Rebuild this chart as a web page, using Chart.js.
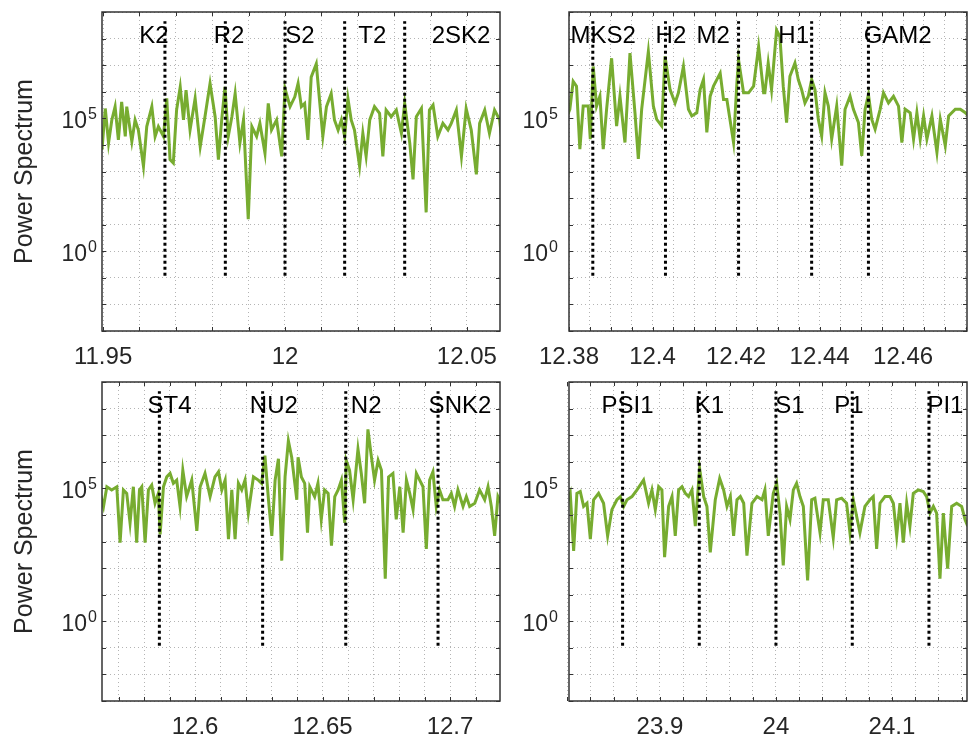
<!DOCTYPE html>
<html>
<head>
<meta charset="utf-8">
<script src="https://cdn.jsdelivr.net/npm/chart.js@4.4.0/dist/chart.umd.min.js"></script>
<style>
  body { margin: 0; background: #fff; }
  #wrap { position: relative; width: 968px; height: 739px; }
  canvas { position: absolute; }
</style>
</head>
<body>
<div id="wrap">
  <canvas id="c1" width="505" height="370" style="left:0;top:0"></canvas>
  <canvas id="c2" width="463" height="370" style="left:505px;top:0"></canvas>
  <canvas id="c3" width="505" height="369" style="left:0;top:370px"></canvas>
  <canvas id="c4" width="463" height="369" style="left:505px;top:370px"></canvas>
</div>
<script>
// ---- panel 1 : semidiurnal, around S2 (period in hours, power as log10)
const p1Period = [11.9492, 11.9497, 11.9506, 11.9515, 11.9524, 11.9533, 11.9542, 11.9551, 11.9561, 11.9565,
  11.9579, 11.9588, 11.9597, 11.9611, 11.9620, 11.9634, 11.9643, 11.9652, 11.9666, 11.9675,
  11.9684, 11.9693, 11.9702, 11.9712, 11.9721, 11.9728, 11.9739, 11.9753, 11.9767, 11.9780,
  11.9794, 11.9808, 11.9817, 11.9826, 11.9835, 11.9844, 11.9854, 11.9863, 11.9876, 11.9886,
  11.9899, 11.9909, 11.9922, 11.9931, 11.9945, 11.9954, 11.9963, 11.9977, 11.9991, 12.0000,
  12.0014, 12.0027, 12.0036, 12.0045, 12.0054, 12.0063, 12.0072, 12.0086, 12.0095, 12.0104,
  12.0114, 12.0127, 12.0136, 12.0146, 12.0155, 12.0164, 12.0173, 12.0182, 12.0191, 12.0205,
  12.0214, 12.0223, 12.0233, 12.0246, 12.0260, 12.0269, 12.0278, 12.0292, 12.0306, 12.0320,
  12.0329, 12.0343, 12.0352, 12.0361, 12.0375, 12.0388, 12.0397, 12.0407, 12.0420, 12.0434,
  12.0448, 12.0457, 12.0471, 12.0485, 12.0498, 12.0512, 12.0526, 12.0535, 12.0549, 12.0562,
  12.0576, 12.0590, 12.0596];
const p1LogPower = [4.70, 3.82, 5.37, 4.07, 4.94, 5.44, 4.19, 5.62, 4.32, 5.44,
  4.13, 4.94, 4.56, 3.20, 4.69, 5.44, 4.32, 4.69, 4.32, 5.75,
  3.45, 3.32, 5.31, 6.18, 4.94, 6.06, 4.56, 5.75, 3.94, 5.06,
  6.31, 5.06, 3.45, 4.94, 6.18, 4.32, 5.06, 5.93, 4.07, 4.94,
  1.21, 4.69, 4.32, 4.81, 3.69, 5.56, 4.56, 4.94, 3.57, 6.12,
  5.44, 5.81, 6.31, 5.44, 5.56, 4.19, 6.55, 7.05, 5.68, 4.32,
  5.44, 5.93, 4.94, 4.56, 4.94, 4.32, 5.75, 4.94, 4.56, 3.20,
  4.44, 3.57, 4.94, 5.44, 5.19, 3.57, 5.31, 5.06, 5.31, 4.44,
  5.56, 4.07, 2.70, 5.06, 5.37, 1.46, 5.31, 5.50, 4.32, 4.81,
  4.56, 4.81, 5.31, 3.57, 5.37, 4.56, 2.89, 4.81, 5.31, 4.44,
  5.31, 4.94, 4.19];
const p1Names = ["K2", "R2", "S2", "T2", "2SK2"];
const p1Lines = [11.9670, 11.9836, 12.0000, 12.0164, 12.0329];
const p1LabelAt = [11.9640, 11.9846, 12.0041, 12.0240, 12.0484];
const p1XTicks = [11.95, 12, 12.05];

// ---- panel 2 : around M2
const p2Period = [12.3794, 12.3802, 12.3810, 12.3818, 12.3826, 12.3834, 12.3846, 12.3851, 12.3858, 12.3866,
  12.3874, 12.3882, 12.3890, 12.3902, 12.3914, 12.3922, 12.3934, 12.3946, 12.3958, 12.3966,
  12.3974, 12.3990, 12.4002, 12.4010, 12.4022, 12.4030, 12.4042, 12.4054, 12.4062, 12.4074,
  12.4086, 12.4094, 12.4106, 12.4114, 12.4122, 12.4130, 12.4138, 12.4146, 12.4162, 12.4170,
  12.4178, 12.4194, 12.4202, 12.4206, 12.4218, 12.4230, 12.4242, 12.4254, 12.4266, 12.4269,
  12.4277, 12.4285, 12.4297, 12.4305, 12.4313, 12.4321, 12.4329, 12.4341, 12.4349, 12.4357,
  12.4365, 12.4373, 12.4381, 12.4389, 12.4397, 12.4405, 12.4413, 12.4421, 12.4429, 12.4441,
  12.4453, 12.4461, 12.4473, 12.4481, 12.4493, 12.4501, 12.4509, 12.4517, 12.4525, 12.4533,
  12.4545, 12.4553, 12.4565, 12.4577, 12.4589, 12.4597, 12.4605, 12.4617, 12.4625, 12.4633,
  12.4641, 12.4649, 12.4657, 12.4669, 12.4681, 12.4689, 12.4701, 12.4709, 12.4725, 12.4737,
  12.4749, 12.4756];
const p2LogPower = [5.02, 5.34, 6.39, 6.21, 3.84, 5.46, 5.46, 4.22, 6.95, 5.46,
  5.83, 3.84, 5.34, 7.26, 4.71, 5.83, 4.09, 7.45, 5.21, 3.47,
  5.34, 7.51, 5.46, 4.96, 4.71, 7.33, 6.08, 5.58, 5.96, 6.95,
  5.34, 5.09, 5.21, 6.08, 6.46, 4.47, 5.83, 6.21, 6.70, 5.71,
  5.71, 4.09, 6.33, 7.20, 5.96, 5.96, 6.21, 7.70, 5.96, 5.96,
  7.08, 6.08, 8.32, 8.07, 6.21, 4.84, 6.58, 7.08, 6.46, 6.08,
  5.58, 5.83, 6.46, 6.08, 4.96, 4.34, 5.96, 5.46, 4.22, 5.46,
  3.22, 5.34, 5.83, 5.34, 4.84, 3.59, 5.34, 5.90, 4.96, 4.59,
  5.34, 5.96, 5.58, 5.83, 5.46, 4.09, 5.34, 5.21, 4.22, 5.21,
  4.22, 5.09, 4.22, 5.09, 3.72, 4.96, 3.97, 5.09, 5.34, 5.34,
  5.21, 5.09];
const p2Names = ["MKS2", "H2", "M2", "H1", "GAM2"];
const p2Lines = [12.3857, 12.4031, 12.4206, 12.4381, 12.4517];
const p2LabelAt = [12.3882, 12.4044, 12.4145, 12.4338, 12.4587];
const p2XTicks = [12.38, 12.4, 12.42, 12.44, 12.46];

// ---- panel 3 : around N2
const p3Period = [12.5628, 12.5641, 12.5654, 12.5673, 12.5693, 12.5706, 12.5719, 12.5732, 12.5745, 12.5758,
  12.5771, 12.5782, 12.5791, 12.5804, 12.5817, 12.5830, 12.5843, 12.5856, 12.5863, 12.5876,
  12.5889, 12.5902, 12.5915, 12.5928, 12.5941, 12.5952, 12.5967, 12.5987, 12.6007, 12.6020,
  12.6039, 12.6059, 12.6078, 12.6092, 12.6105, 12.6118, 12.6131, 12.6144, 12.6157, 12.6170,
  12.6183, 12.6196, 12.6209, 12.6229, 12.6248, 12.6261, 12.6274, 12.6288, 12.6301, 12.6314,
  12.6327, 12.6340, 12.6353, 12.6366, 12.6379, 12.6399, 12.6404, 12.6417, 12.6430, 12.6441,
  12.6450, 12.6469, 12.6482, 12.6495, 12.6508, 12.6522, 12.6535, 12.6548, 12.6561, 12.6574,
  12.6587, 12.6593, 12.6606, 12.6620, 12.6639, 12.6652, 12.6665, 12.6678, 12.6691, 12.6704,
  12.6718, 12.6731, 12.6746, 12.6759, 12.6776, 12.6789, 12.6803, 12.6816, 12.6829, 12.6842,
  12.6855, 12.6868, 12.6881, 12.6894, 12.6907, 12.6920, 12.6933, 12.6946, 12.6959, 12.6972,
  12.6992, 12.7005, 12.7018, 12.7031, 12.7051, 12.7064, 12.7077, 12.7097, 12.7116, 12.7136,
  12.7149, 12.7162, 12.7175, 12.7188, 12.7201];
const p3LogPower = [4.81, 4.32, 5.06, 4.94, 5.06, 2.96, 4.94, 4.81, 3.70, 5.06,
  2.96, 4.94, 5.06, 2.96, 4.94, 5.12, 4.44, 4.81, 3.27, 5.06,
  5.43, 5.56, 5.19, 5.31, 4.32, 5.68, 4.69, 5.31, 3.40, 5.06,
  5.56, 4.69, 5.43, 5.62, 4.94, 5.31, 3.09, 4.94, 3.09, 5.19,
  4.94, 5.31, 4.07, 5.43, 5.31, 5.19, 6.23, 4.57, 3.21, 5.31,
  6.11, 2.28, 5.43, 6.79, 6.17, 4.57, 6.17, 5.43, 5.19, 3.33,
  5.06, 4.69, 5.19, 3.83, 4.94, 4.81, 2.84, 4.69, 4.94, 5.31,
  3.70, 6.05, 5.68, 4.57, 6.48, 5.56, 4.44, 7.22, 6.23, 5.31,
  6.05, 5.68, 1.60, 5.43, 5.56, 3.83, 5.06, 3.33, 5.31, 4.81,
  4.20, 5.56, 5.31, 5.06, 2.72, 5.31, 5.62, 4.32, 4.94, 4.57,
  4.57, 4.81, 4.32, 4.94, 4.32, 4.69, 4.32, 4.44, 4.94, 4.57,
  5.06, 4.32, 3.21, 4.69, 4.44];
const p3Names = ["ST4", "NU2", "N2", "SNK2"];
const p3Lines = [12.5860, 12.6265, 12.6591, 12.6953];
const p3LabelAt = [12.5900, 12.6309, 12.6671, 12.7039];
const p3XTicks = [12.6, 12.65, 12.7];

// ---- panel 4 : diurnal, around S1
const p4Period = [23.8198, 23.8227, 23.8256, 23.8284, 23.8313, 23.8342, 23.8371, 23.8400, 23.8428, 23.8471,
  23.8514, 23.8549, 23.8586, 23.8629, 23.8658, 23.8687, 23.8716, 23.8759, 23.8802, 23.8859,
  23.8902, 23.8931, 23.8960, 23.8989, 23.9017, 23.9040, 23.9075, 23.9104, 23.9132, 23.9161,
  23.9190, 23.9219, 23.9247, 23.9276, 23.9305, 23.9342, 23.9377, 23.9405, 23.9434, 23.9477,
  23.9515, 23.9549, 23.9578, 23.9607, 23.9635, 23.9664, 23.9693, 23.9722, 23.9750, 23.9793,
  23.9837, 23.9880, 23.9905, 23.9934, 23.9977, 24.0006, 24.0035, 24.0063, 24.0092, 24.0121,
  24.0150, 24.0178, 24.0207, 24.0236, 24.0273, 24.0308, 24.0336, 24.0380, 24.0408, 24.0451,
  24.0494, 24.0523, 24.0566, 24.0609, 24.0638, 24.0667, 24.0724, 24.0767, 24.0810, 24.0839,
  24.0868, 24.0897, 24.0940, 24.0983, 24.1012, 24.1041, 24.1069, 24.1098, 24.1127, 24.1155,
  24.1184, 24.1227, 24.1270, 24.1299, 24.1328, 24.1357, 24.1385, 24.1414, 24.1443, 24.1480,
  24.1515, 24.1558, 24.1601, 24.1630, 24.1653];
const p4LogPower = [4.44, 4.81, 2.65, 4.81, 4.88, 4.32, 4.44, 3.09, 4.57, 4.81,
  4.44, 3.21, 4.20, 4.57, 4.69, 4.32, 4.57, 4.69, 4.94, 5.31,
  4.44, 4.94, 4.20, 5.06, 4.94, 2.41, 4.32, 4.69, 3.21, 4.94,
  5.06, 4.81, 4.69, 4.94, 3.58, 5.74, 4.69, 4.32, 2.59, 4.57,
  5.37, 4.94, 4.32, 4.69, 3.21, 4.57, 4.69, 4.44, 2.47, 4.44,
  4.69, 4.57, 4.94, 3.21, 4.81, 5.19, 4.07, 2.10, 4.32, 3.83,
  4.94, 5.19, 4.69, 4.32, 1.54, 4.57, 4.63, 3.33, 4.57, 4.57,
  3.15, 4.57, 4.63, 4.44, 3.33, 4.57, 3.33, 4.32, 4.57, 4.69,
  2.72, 4.44, 4.69, 4.69, 4.44, 3.21, 4.44, 2.96, 4.44, 3.58,
  4.81, 4.94, 4.88, 4.69, 4.07, 4.32, 4.07, 1.60, 4.07, 1.98,
  4.32, 4.44, 4.32, 3.83, 3.58];
const p4Names = ["PSI1", "K1", "S1", "P1", "PI1"];
const p4Lines = [23.8678, 23.9339, 24.0000, 24.0658, 24.1319];
const p4LabelAt = [23.8720, 23.9427, 24.0121, 24.0629, 24.1461];
const p4XTicks = [23.9, 24, 24.1];

// y axis (shared by all panels)
const yDecades = [-3, -2, -1, 0, 1, 2, 3, 4, 5, 6, 7, 8, 9];
const yLabelled = [0, 5];
const lineBottom = 0.12;
const lineTop = 4.5e8;
const labelHeight = 1.2e8;

const FONT = '"Liberation Sans", Arial, Helvetica, sans-serif';
const GREEN = "#77AC30";

const matlabBox = {
  id: "matlabBox",
  afterDatasetsDraw(chart, args, opts) {
    const { ctx, chartArea: a, scales } = chart;
    const x = scales.x, y = scales.y;
    ctx.save();
    // constituent names
    ctx.font = "24px " + FONT;
    ctx.fillStyle = "#000";
    ctx.textAlign = "center";
    ctx.textBaseline = "middle";
    opts.names.forEach((n, i) => {
      ctx.fillText(n, x.getPixelForValue(opts.labelAt[i]), y.getPixelForValue(labelHeight));
    });
    // box + inward ticks
    ctx.strokeStyle = "#333";
    ctx.lineWidth = 1.5;
    ctx.strokeRect(a.left, a.top, a.right - a.left, a.bottom - a.top);
    ctx.lineWidth = 1;
    ctx.beginPath();
    x.ticks.forEach((t) => {
      const px = Math.round(x.getPixelForValue(t.value)) + 0.5;
      ctx.moveTo(px, a.bottom); ctx.lineTo(px, a.bottom - 4);
      ctx.moveTo(px, a.top); ctx.lineTo(px, a.top + 4);
    });
    y.ticks.forEach((t) => {
      const py = Math.round(y.getPixelForValue(t.value)) + 0.5;
      ctx.moveTo(a.left, py); ctx.lineTo(a.left + 4, py);
      ctx.moveTo(a.right, py); ctx.lineTo(a.right - 4, py);
    });
    ctx.stroke();
    // y tick labels 10^d with a raised exponent
    ctx.fillStyle = "#262626";
    ctx.textAlign = "left";
    ctx.textBaseline = "alphabetic";
    yLabelled.forEach((d) => {
      const py = y.getPixelForValue(Math.pow(10, d));
      ctx.font = "16px " + FONT;
      const w2 = ctx.measureText(String(d)).width;
      ctx.font = "23px " + FONT;
      const w1 = ctx.measureText("10").width;
      const x0 = a.left - opts.tickGap - w2 - w1 - 1;
      ctx.fillText("10", x0, py + 10);
      ctx.font = "16px " + FONT;
      ctx.fillText(String(d), x0 + w1 + 1, py + 1);
    });
    ctx.restore();
  },
};

function drawPanel(id, p) {
  const minorTicks = [];
  for (let v = p.gridFrom; v <= p.xMax + 1e-9; v += p.gridStep) minorTicks.push(+v.toFixed(4));

  const datasets = p.lines.map((v) => ({
    data: [{ x: v, y: lineBottom }, { x: v, y: lineTop }],
    borderColor: "#000",
    borderWidth: 3,
    borderDash: [3, 3],
    pointRadius: 0,
    order: 1,
  }));
  datasets.push({
    data: p.period.map((x, i) => ({ x: x, y: Math.pow(10, p.logPower[i]) })),
    borderColor: GREEN,
    borderWidth: 3,
    pointRadius: 0,
    tension: 0,
    order: 2,
  });

  new Chart(document.getElementById(id), {
    type: "line",
    data: { datasets: datasets },
    plugins: [matlabBox],
    options: {
      responsive: false,
      animation: false,
      devicePixelRatio: 1,
      layout: { padding: { left: 0, top: 12, right: p.padRight, bottom: 0 } },
      plugins: {
        legend: { display: false },
        tooltip: { enabled: false },
        matlabBox: { names: p.names, labelAt: p.labelAt, tickGap: p.tickGap },
      },
      scales: {
        x: {
          type: "linear",
          min: p.xMin,
          max: p.xMax,
          afterBuildTicks: (s) => { s.ticks = minorTicks.map((v) => ({ value: v })); },
          afterFit: (s) => { s.height = p.xHeight; s.paddingLeft = 0; s.paddingRight = 0; },
          ticks: {
            autoSkip: false,
            maxRotation: 0,
            padding: 12,
            color: "#262626",
            font: { family: FONT, size: 24 },
            callback: (v) => (p.xTicks.some((t) => Math.abs(t - v) < 1e-6) ? String(+v.toFixed(2)) : ""),
          },
          grid: { color: "#b4b4b4", lineWidth: 1, drawTicks: false },
          border: { display: false, dash: [1, 3] },
        },
        y: {
          type: "logarithmic",
          min: 1e-3,
          max: 1e9,
          afterBuildTicks: (s) => { s.ticks = yDecades.map((d) => ({ value: Math.pow(10, d) })); },
          afterFit: (s) => { s.width = p.yWidth; s.paddingTop = 0; s.paddingBottom = 0; },
          ticks: {
            autoSkip: false,
            padding: 7,
            font: { family: FONT, size: 24 },
            callback: () => "",
          },
          title: {
            display: p.showTitle,
            text: "Power Spectrum",
            color: "#262626",
            font: { family: FONT, size: 25 },
            padding: { top: 10, bottom: 0 },
          },
          grid: { color: "#b4b4b4", lineWidth: 1, drawTicks: false },
          border: { display: false, dash: [1, 3] },
        },
      },
    },
  });
}

drawPanel("c1", { period: p1Period, logPower: p1LogPower, names: p1Names, lines: p1Lines, labelAt: p1LabelAt,
  xTicks: p1XTicks, xMin: 11.9497, xMax: 12.0591, gridFrom: 11.95, gridStep: 0.01,
  yWidth: 102, xHeight: 39, padRight: 5, showTitle: true, tickGap: 5 });
drawPanel("c2", { period: p2Period, logPower: p2LogPower, names: p2Names, lines: p2Lines, labelAt: p2LabelAt,
  xTicks: p2XTicks, xMin: 12.38, xMax: 12.4753, gridFrom: 12.38, gridStep: 0.005,
  yWidth: 64, xHeight: 39, padRight: 1, showTitle: false, tickGap: 11 });
drawPanel("c3", { period: p3Period, logPower: p3LogPower, names: p3Names, lines: p3Lines, labelAt: p3LabelAt,
  xTicks: p3XTicks, xMin: 12.5635, xMax: 12.7196, gridFrom: 12.57, gridStep: 0.01,
  yWidth: 102, xHeight: 38, padRight: 5, showTitle: true, tickGap: 5 });
drawPanel("c4", { period: p4Period, logPower: p4LogPower, names: p4Names, lines: p4Lines, labelAt: p4LabelAt,
  xTicks: p4XTicks, xMin: 23.8216, xMax: 24.1647, gridFrom: 23.82, gridStep: 0.02,
  yWidth: 64, xHeight: 38, padRight: 1, showTitle: false, tickGap: 11 });
</script>
</body>
</html>
